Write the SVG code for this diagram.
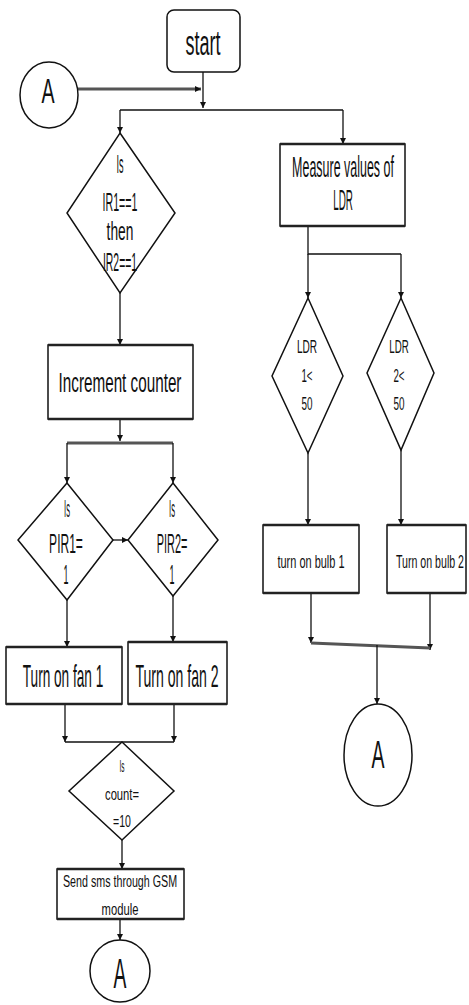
<svg xmlns="http://www.w3.org/2000/svg" width="469" height="1005" viewBox="0 0 469 1005">
<style>
.s{fill:#fff;stroke:#111;stroke-width:1.5}
.b{fill:#fff;stroke:#111;stroke-width:1.5}
.e{fill:none;stroke:#222;stroke-width:2.6}
.t{font-family:"Liberation Sans",Arial,sans-serif;fill:#111;text-anchor:middle}
.c{fill:none;stroke:#111;stroke-width:1.3}
.g{fill:none;stroke:#555;stroke-width:3}
</style>
<defs>
<marker id="ah" viewBox="0 0 10 10" refX="10" refY="5" markerWidth="6" markerHeight="7" markerUnits="userSpaceOnUse" orient="auto">
<path d="M0,0 L10,5 L0,10 z" fill="#111"/>
</marker>
</defs>
<g id="connectors">
<path class="g" d="M78,89 H201" marker-end="url(#ah)"/>
<path class="c" d="M203,72 V108" marker-end="url(#ah)"/>
<path class="c" d="M120,110 H343"/>
<path class="c" d="M120,110 V133" marker-end="url(#ah)"/>
<path class="c" d="M343,110 V144" marker-end="url(#ah)"/>
<path class="c" d="M120,293 V345" marker-end="url(#ah)"/>
<path class="c" d="M120,419 V441" marker-end="url(#ah)"/>
<path class="g" d="M67,443 H173"/>
<path class="c" d="M67,443 V483" marker-end="url(#ah)"/>
<path class="c" d="M173,443 V483" marker-end="url(#ah)"/>
<path class="c" d="M113,540 H128" marker-end="url(#ah)"/>
<path class="c" d="M67,600 V647" marker-end="url(#ah)"/>
<path class="c" d="M173,596 V642" marker-end="url(#ah)"/>
<path class="c" d="M65,704 V742" marker-end="url(#ah)"/>
<path class="c" d="M174,704 V742" marker-end="url(#ah)"/>
<path class="c" d="M65,742 H174"/>
<path class="c" d="M122,840 V869" marker-end="url(#ah)"/>
<path class="c" d="M120,919 V940" marker-end="url(#ah)"/>
<path class="c" d="M308,226 V254 H401"/>
<path class="c" d="M308,254 V298" marker-end="url(#ah)"/>
<path class="c" d="M401,254 V298" marker-end="url(#ah)"/>
<path class="c" d="M308,453 V525" marker-end="url(#ah)"/>
<path class="c" d="M401,450 V525" marker-end="url(#ah)"/>
<path class="c" d="M311,593 V643" marker-end="url(#ah)"/>
<path class="c" d="M430,593 V650" marker-end="url(#ah)"/>
<path class="g" d="M311,643 L430,648" stroke-width="2.5"/>
<path class="c" d="M377,645 V704" marker-end="url(#ah)"/>
</g>
<g id="start">
<rect class="s" x="167" y="10" width="73" height="62" rx="7"/>
<text class="t" transform="translate(203,55) scale(0.5,1)" font-size="36">start</text>
</g>
<g id="connA1">
<ellipse class="s" cx="49" cy="95" rx="29" ry="33"/>
<text class="t" transform="translate(48,103) scale(0.56,1)" font-size="35">A</text>
</g>
<g id="decIR">
<polygon class="s" points="120,133 175,213 120,293 67,213"/>
<text class="t" transform="translate(120,173) scale(0.35,1)" font-size="26">Is</text>
<text class="t" transform="translate(120,211) scale(0.41,1)" font-size="26">IR1==1</text>
<text class="t" transform="translate(120,240) scale(0.53,1)" font-size="26">then</text>
<text class="t" transform="translate(120,271) scale(0.4,1)" font-size="26">IR2==1</text>
</g>
<g id="measure">
<rect class="b" x="280" y="144" width="125" height="82"/>
<path class="e" d="M280,144 H405 M280,226 H405"/>
<text class="t" transform="translate(343,177) scale(0.43,1)" font-size="29">Measure values of</text>
<text class="t" transform="translate(343,210) scale(0.34,1)" font-size="29">LDR</text>
</g>
<g id="decLDR1">
<polygon class="s" points="308,298 343,376 308,453 272,376"/>
<text class="t" transform="translate(307,353) scale(0.56,1)" font-size="18">LDR</text>
<text class="t" transform="translate(307,382) scale(0.54,1)" font-size="18">1&lt;</text>
<text class="t" transform="translate(307,410) scale(0.55,1)" font-size="18">50</text>
</g>
<g id="decLDR2">
<polygon class="s" points="401,298 434,373 401,450 367,373"/>
<text class="t" transform="translate(399,353) scale(0.54,1)" font-size="18">LDR</text>
<text class="t" transform="translate(399,382) scale(0.54,1)" font-size="18">2&lt;</text>
<text class="t" transform="translate(399,410) scale(0.55,1)" font-size="18">50</text>
</g>
<g id="bulb1">
<rect class="b" x="263" y="525" width="96" height="68"/>
<path class="e" d="M263,525 H359 M263,593 H359"/>
<text class="t" transform="translate(311,568) scale(0.61,1)" font-size="18">turn on bulb 1</text>
</g>
<g id="bulb2">
<rect class="b" x="387" y="525" width="79" height="68"/>
<path class="e" d="M387,525 H466 M387,593 H466"/>
<text class="t" transform="translate(430,568) scale(0.59,1)" font-size="18">Turn on bulb 2</text>
</g>
<g id="connA2">
<ellipse class="s" cx="378" cy="755" rx="34" ry="51"/>
<text class="t" transform="translate(378,768) scale(0.5,1)" font-size="39">A</text>
</g>
<g id="increment">
<rect class="b" x="48" y="345" width="145" height="74"/>
<path class="e" d="M48,345 H193 M48,419 H193"/>
<text class="t" transform="translate(120,392) scale(0.545,1)" font-size="28">Increment counter</text>
</g>
<g id="decPIR1">
<polygon class="s" points="67,483 113,540 67,600 18,540"/>
<text class="t" transform="translate(67,517) scale(0.32,1)" font-size="24">Is</text>
<text class="t" transform="translate(66,553) scale(0.43,1)" font-size="28">PIR1=</text>
<text class="t" transform="translate(66,584) scale(0.32,1)" font-size="28">1</text>
</g>
<g id="decPIR2">
<polygon class="s" points="173,483 218,540 173,596 128,540"/>
<text class="t" transform="translate(172,517) scale(0.32,1)" font-size="24">Is</text>
<text class="t" transform="translate(172,553) scale(0.39,1)" font-size="28">PIR2=</text>
<text class="t" transform="translate(172,584) scale(0.32,1)" font-size="28">1</text>
</g>
<g id="fan1">
<rect class="b" x="6" y="647" width="116" height="57"/>
<path class="e" d="M6,647 H122 M6,704 H122"/>
<text class="t" transform="translate(63,687) scale(0.426,1)" font-size="32">Turn on fan 1</text>
</g>
<g id="fan2">
<rect class="b" x="128" y="642" width="99" height="62"/>
<path class="e" d="M128,642 H227 M128,704 H227"/>
<text class="t" transform="translate(177,687) scale(0.44,1)" font-size="32">Turn on fan 2</text>
</g>
<g id="decCount">
<polygon class="s" points="122,742 174,791 122,840 69,791"/>
<text class="t" transform="translate(122,772) scale(0.38,1)" font-size="17">Is</text>
<text class="t" transform="translate(122,800) scale(0.66,1)" font-size="17">count=</text>
<text class="t" transform="translate(122,827) scale(0.62,1)" font-size="17">=10</text>
</g>
<g id="gsm">
<rect class="b" x="57" y="869" width="127" height="50"/>
<path class="e" d="M57,869 H184 M57,919 H184"/>
<text class="t" transform="translate(120,887) scale(0.63,1)" font-size="17">Send sms through GSM</text>
<text class="t" transform="translate(120,915) scale(0.66,1)" font-size="17">module</text>
</g>
<g id="connA3">
<ellipse class="s" cx="120" cy="971" rx="30" ry="31"/>
<text class="t" transform="translate(120,988) scale(0.46,1)" font-size="42">A</text>
</g>
</svg>
